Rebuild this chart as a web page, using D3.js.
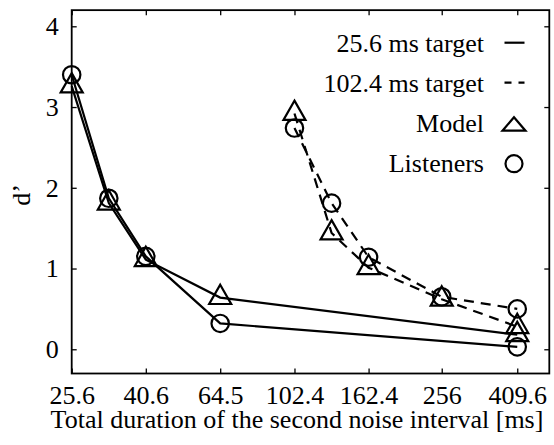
<!DOCTYPE html>
<html>
<head>
<meta charset="utf-8">
<script src="https://cdn.jsdelivr.net/npm/d3@7"></script>
<style>
  html, body { margin: 0; padding: 0; background: #fff; }
  svg { display: block; }
</style>
</head>
<body>
<svg id="chart" width="554" height="445"></svg>
<script>
// Durations of the second noise interval (ms)
const durShort = [25.6, 32.25, 40.6, 64.5, 409.6];
const durLong = [102.4, 129.0, 162.4, 256, 409.6];

// d' for the 25.6 ms target
const shortModel = [3.26, 1.81, 1.11, 0.64, 0.18];
const shortListeners = [3.40, 1.87, 1.15, 0.32, 0.03];

// d' for the 102.4 ms target
const longModel = [2.92, 1.44, 1.01, 0.62, 0.28];
const longListeners = [2.74, 1.81, 1.14, 0.65, 0.50];

const xTicks = [25.6, 40.6, 64.5, 102.4, 162.4, 256, 409.6];
const xTickLabels = ["25.6", "40.6", "64.5", "102.4", "162.4", "256", "409.6"];
const yTicks = [0, 1, 2, 3, 4];

const legendLabels = ["25.6 ms target", "102.4 ms target", "Model", "Listeners"];

const FONT = "'Liberation Serif', Tinos, 'Times New Roman', 'Nimbus Roman', 'DejaVu Serif', serif";

const svg = d3.select("#chart");
const plotLeft = 71.7, plotRight = 549.3, plotTop = 10.15, plotBottom = 373.5;

const x = d3.scaleLog().domain([25.6, 500]).range([plotLeft, plotRight]);
const y = d3.scaleLinear().domain([-0.3, 4.2]).range([plotBottom, plotTop]);

const fontSize = 26;
const tickLen = 5;

// Axes with inward ticks on all four sides
const gx = svg.append("g").attr("transform", `translate(0,${plotBottom})`)
  .call(d3.axisBottom(x).tickValues(xTicks).tickFormat((d, i) => xTickLabels[i])
    .tickSizeInner(-tickLen).tickSizeOuter(0).tickPadding(16));
const gxTop = svg.append("g").attr("transform", `translate(0,${plotTop})`)
  .call(d3.axisTop(x).tickValues(xTicks).tickFormat("")
    .tickSizeInner(-tickLen).tickSizeOuter(0));
const gy = svg.append("g").attr("transform", `translate(${plotLeft},0)`)
  .call(d3.axisLeft(y).tickValues(yTicks).tickFormat(d3.format("d"))
    .tickSizeInner(-tickLen).tickSizeOuter(0).tickPadding(13));
const gyRight = svg.append("g").attr("transform", `translate(${plotRight},0)`)
  .call(d3.axisRight(y).tickValues(yTicks).tickFormat("")
    .tickSizeInner(-tickLen).tickSizeOuter(0));

[gx, gxTop, gy, gyRight].forEach(g => {
  g.attr("font-family", null).attr("font-size", null);
  g.select(".domain").remove();
  g.selectAll(".tick line").attr("stroke", "#000").attr("stroke-width", 1.3);
  g.selectAll("text").style("font-family", FONT).style("font-size", fontSize + "px")
    .attr("fill", "#000");
});
gx.selectAll(".tick text").attr("dy", "0.71em").attr("y", 12);

// Frame
svg.append("rect")
  .attr("x", plotLeft).attr("y", plotTop)
  .attr("width", plotRight - plotLeft).attr("height", plotBottom - plotTop)
  .attr("fill", "none").attr("stroke", "#000").attr("stroke-width", 1.8);

function addText(sel) {
  return sel.append("text").style("font-family", FONT).style("font-size", fontSize + "px")
    .attr("fill", "#000");
}

// Axis titles
addText(svg)
  .attr("x", 297).attr("y", 428)
  .attr("text-anchor", "middle")
  .text("Total duration of the second noise interval [ms]");
addText(svg)
  .attr("transform", "translate(30,195) rotate(-90)")
  .attr("text-anchor", "middle")
  .text("d’");

const plot = svg.append("g");

const line = d3.line().x(d => x(d[0])).y(d => y(d[1]));

const series = [
  { xs: durShort, ys: shortModel, dash: null, marker: "tri" },
  { xs: durShort, ys: shortListeners, dash: null, marker: "circ" },
  { xs: durLong, ys: longModel, dash: "10,7", marker: "tri" },
  { xs: durLong, ys: longListeners, dash: "10,7", marker: "circ" }
];

// Triangle placed on its centroid
function triPath(cx, cy, hw, up, down) {
  return `M${cx},${cy - up}L${cx + hw},${cy + down}L${cx - hw},${cy + down}Z`;
}

series.forEach(s => {
  const pts = s.xs.map((v, i) => [v, s.ys[i]]);
  plot.append("path")
    .attr("d", line(pts))
    .attr("fill", "none").attr("stroke", "#000").attr("stroke-width", 2.2)
    .attr("stroke-dasharray", s.dash);
});

series.forEach(s => {
  const pts = s.xs.map((v, i) => [v, s.ys[i]]);
  if (s.marker === "tri") {
    plot.selectAll(null).data(pts).enter().append("path")
      .attr("d", d => triPath(x(d[0]), y(d[1]), 11, 12.9, 6.4))
      .attr("fill", "none").attr("stroke", "#000").attr("stroke-width", 2.2)
      .attr("stroke-linejoin", "miter");
  } else {
    plot.selectAll(null).data(pts).enter().append("circle")
      .attr("cx", d => x(d[0])).attr("cy", d => y(d[1])).attr("r", 8.7)
      .attr("fill", "none").attr("stroke", "#000").attr("stroke-width", 2.2);
  }
});

// Legend
const legX = 484, legSymX = 514;
const legY = [51.7, 91.7, 131.7, 171.7];
legendLabels.forEach((t, i) => {
  addText(svg)
    .attr("x", legX).attr("y", legY[i])
    .attr("text-anchor", "end")
    .text(t);
});
svg.append("line")
  .attr("x1", legSymX - 9.5).attr("x2", legSymX + 10.5)
  .attr("y1", legY[0] - 9).attr("y2", legY[0] - 9)
  .attr("stroke", "#000").attr("stroke-width", 2.2);
svg.append("line")
  .attr("x1", legSymX - 9.5).attr("x2", legSymX + 10.5)
  .attr("y1", legY[1] - 9).attr("y2", legY[1] - 9)
  .attr("stroke", "#000").attr("stroke-width", 2.2)
  .attr("stroke-dasharray", "7,7");
svg.append("path")
  .attr("d", `M${legSymX},${legY[2] - 14.5}L${legSymX + 11.5},${legY[2] - 1}L${legSymX - 11.5},${legY[2] - 1}Z`)
  .attr("fill", "none").attr("stroke", "#000").attr("stroke-width", 2.2);
svg.append("circle")
  .attr("cx", legSymX).attr("cy", legY[3] - 8).attr("r", 8.5)
  .attr("fill", "none").attr("stroke", "#000").attr("stroke-width", 2.2);
</script>
</body>
</html>
